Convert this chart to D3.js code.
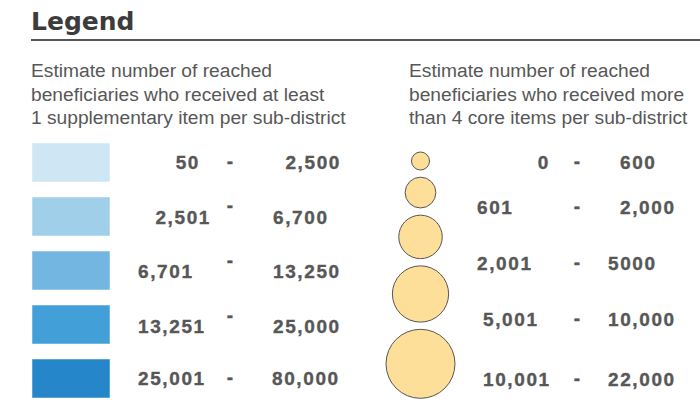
<!DOCTYPE html>
<html>
<head>
<meta charset="utf-8">
<script src="https://cdn.jsdelivr.net/npm/d3@7"></script>
<style>
  body { margin: 0; background: #fff; }
  text { font-family: "Liberation Sans", Arial, sans-serif; }
</style>
</head>
<body>
<div id="chart"></div>
<script>
// fill classes: supplementary items
var fillLow = ["50", "2,501", "6,701", "13,251", "25,001"];
var fillHigh = ["2,500", "6,700", "13,250", "25,000", "80,000"];
var fillColors = ["#cfe6f4", "#a0cfea", "#73b6e1", "#429fd7", "#2587c9"];

// circle classes: core items
var circleLow = ["0", "601", "2,001", "5,001", "10,001"];
var circleHigh = ["600", "2,000", "5000", "10,000", "22,000"];

var leftTitle = ["Estimate number of reached", "beneficiaries who received at least", "1 supplementary item per sub-district"];
var rightTitle = ["Estimate number of reached", "beneficiaries who received more", "than 4 core items per sub-district"];

var width = 700, height = 405;
var textColor = "#575757";

var svg = d3.select("#chart").append("svg")
  .attr("width", width)
  .attr("height", height);

svg.append("text")
  .attr("x", 31).attr("y", 30)
  .style("font-family", "'DejaVu Sans', Verdana, sans-serif")
  .style("font-weight", "bold")
  .style("font-size", "25px")
  .attr("fill", "#3c3c3c")
  .text("Legend");

svg.append("line")
  .attr("x1", 31).attr("x2", width)
  .attr("y1", 40).attr("y2", 40)
  .attr("stroke", "#555").attr("stroke-width", 2);

function titleBlock(lines, x) {
  svg.append("g").selectAll("text")
    .data(lines).enter()
    .append("text")
      .attr("x", x)
      .attr("y", function(d, i) { return 77 + i * 23.5; })
      .attr("fill", textColor)
      .style("font-size", "19.2px")
      .text(function(d) { return d; });
}
titleBlock(leftTitle, 31);
titleBlock(rightTitle, 409);

var labelStyle = function(sel) {
  sel.attr("fill", textColor)
     .attr("stroke", textColor)
     .attr("stroke-width", 0.35)
     .style("font-weight", "bold")
     .style("font-size", "19px")
     .style("letter-spacing", "1.6px")
     .attr("dominant-baseline", "central");
};

// ---- left: filled boxes
var rows = d3.range(fillLow.length);
var yBox = d3.scaleBand().domain(rows).range([143, 143 + 54 * 5 - 15]).paddingInner(15 / 54);

var left = svg.append("g");
left.selectAll("rect")
  .data(fillColors).enter()
  .append("rect")
    .attr("x", 32)
    .attr("y", function(d, i) { return yBox(i); })
    .attr("width", 78)
    .attr("height", yBox.bandwidth())
    .attr("fill", function(d) { return d; })
    .attr("stroke", "#fff").attr("stroke-opacity", 0.5);

// odd placement of the lower bound, as in the original
var lowX = [[200, "end"], [211, "end"], [138, "start"], [138, "start"], [138, "start"]];
var textShift = [0, 1, 1, 2, 0];
var dashShift = [0, -10, -9, -8, 0];
var highX = [[341, "end"], [273, "start"], [273, "start"], [273, "start"], [272, "start"]];

left.selectAll(".low")
  .data(fillLow).enter()
  .append("text").attr("class", "low")
    .attr("x", function(d, i) { return lowX[i][0]; })
    .attr("text-anchor", function(d, i) { return lowX[i][1]; })
    .attr("y", function(d, i) { return yBox(i) + yBox.bandwidth() / 2 + textShift[i]; })
    .call(labelStyle)
    .text(function(d) { return d; });

left.selectAll(".dash")
  .data(fillLow).enter()
  .append("text").attr("class", "dash")
    .attr("x", 230).attr("text-anchor", "middle")
    .attr("y", function(d, i) { return yBox(i) + yBox.bandwidth() / 2 + dashShift[i] - 1; })
    .call(labelStyle)
    .style("letter-spacing", "0px")
    .text("-");

left.selectAll(".high")
  .data(fillHigh).enter()
  .append("text").attr("class", "high")
    .attr("x", function(d, i) { return highX[i][0]; })
    .attr("text-anchor", function(d, i) { return highX[i][1]; })
    .attr("y", function(d, i) { return yBox(i) + yBox.bandwidth() / 2 + textShift[i]; })
    .call(labelStyle)
    .text(function(d) { return d; });

// ---- right: graduated circles
var rScale = d3.scaleLinear().domain([0, circleLow.length - 1]).range([9, 34.5]);
var gap = 7.2;
var cy = [];
rows.forEach(function(i) {
  cy.push(i === 0 ? 152 + rScale(0) : cy[i - 1] + rScale(i - 1) + gap + rScale(i));
});

var right = svg.append("g");
right.selectAll("circle")
  .data(circleHigh).enter()
  .append("circle")
    .attr("cx", 420.5)
    .attr("cy", function(d, i) { return cy[i]; })
    .attr("r", function(d, i) { return rScale(i); })
    .attr("fill", "#fddf99")
    .attr("stroke", "#555")
    .attr("stroke-width", 1);

var rowY = [162.5, 207.5, 263.5, 319.5, 379.5];
var cLowX = [[550, "end"], [477, "start"], [477, "start"], [483, "start"], [483, "start"]];
var cHighX = [620, 620, 608, 608, 608];

right.selectAll(".low")
  .data(circleLow).enter()
  .append("text").attr("class", "low")
    .attr("x", function(d, i) { return cLowX[i][0]; })
    .attr("text-anchor", function(d, i) { return cLowX[i][1]; })
    .attr("y", function(d, i) { return rowY[i]; })
    .call(labelStyle)
    .text(function(d) { return d; });

right.selectAll(".dash")
  .data(circleLow).enter()
  .append("text").attr("class", "dash")
    .attr("x", 577).attr("text-anchor", "middle")
    .attr("y", function(d, i) { return rowY[i] - 1; })
    .call(labelStyle)
    .style("letter-spacing", "0px")
    .text("-");

right.selectAll(".high")
  .data(circleHigh).enter()
  .append("text").attr("class", "high")
    .attr("x", function(d, i) { return cHighX[i]; })
    .attr("y", function(d, i) { return rowY[i]; })
    .call(labelStyle)
    .text(function(d) { return d; });
</script>
</body>
</html>
